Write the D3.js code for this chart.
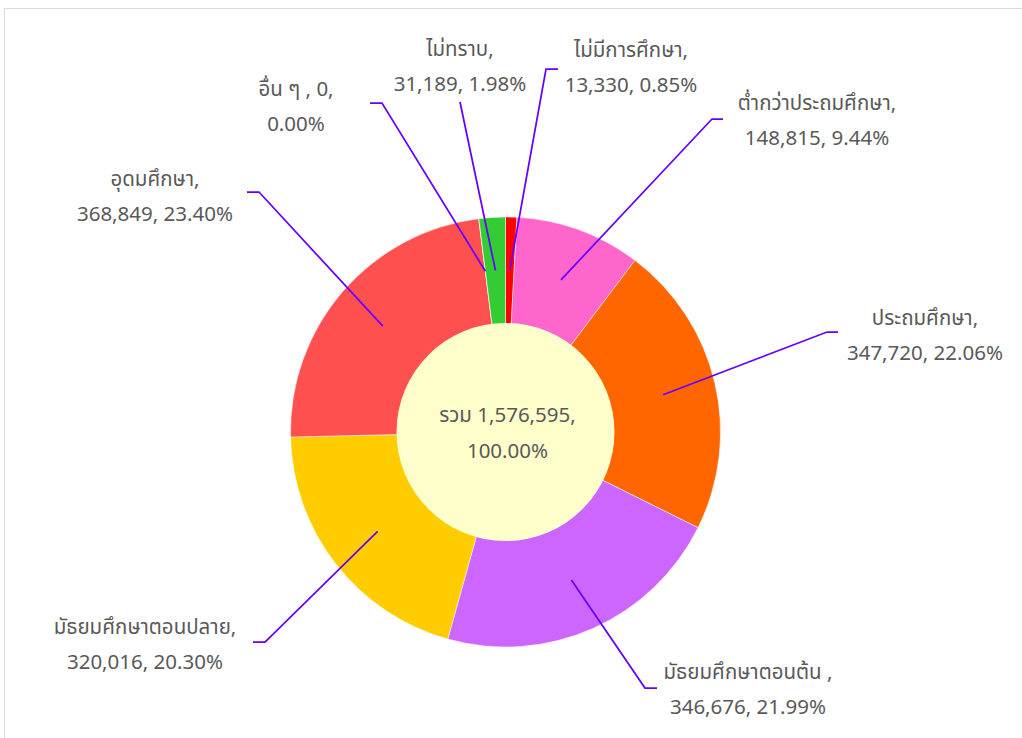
<!DOCTYPE html>
<html>

<head>
  <meta charset="utf-8">
  <title>Education</title>
  <style>
    body { margin: 0; background: #fff; }
    text { font-family: Tahoma, "Leelawadee UI", "Noto Sans Thai", "Liberation Sans", Arial, sans-serif; fill: #595959; }
  </style>
</head>

<body>
  <svg id="svg1"></svg>

  <script src="https://d3js.org/d3.v7.min.js"></script>
  <script>
    // data
    let categories = ["ไม่มีการศึกษา", "ต่ำกว่าประถมศึกษา", "ประถมศึกษา", "มัธยมศึกษาตอนต้น ",
      "มัธยมศึกษาตอนปลาย", "อุดมศึกษา", "อื่น ๆ ", "ไม่ทราบ"];
    let values = [13330, 148815, 347720, 346676, 320016, 368849, 0, 31189];
    let colors = ["#ff0000", "#ff66cc", "#ff6600", "#cc66ff", "#ffcc00", "#ff5050", "#a5a5a5", "#33cc33"];
    let firstLineParts = [1, 1, 1, 1, 1, 1, 2, 1]; // how many comma parts go on the first label line
    let totalLabel = "รวม";

    // label layout: label centre, elbow of the leader line, end of the short horizontal piece
    let labelPos = [
      { x: 631, y: 50, ex: 546, ey: 69, hx: 558 },
      { x: 817, y: 103, ex: 712, ey: 119, hx: 723 },
      { x: 925, y: 318, ex: 827, ey: 332, hx: 838 },
      { x: 748, y: 672, ex: 645, ey: 688, hx: 657 },
      { x: 145, y: 627, ex: 265, ey: 642, hx: 253 },
      { x: 155, y: 179, ex: 259, ey: 192, hx: 247 },
      { x: 296, y: 89, ex: 382, ey: 103, hx: 370 },
      { x: 460, y: 49, ex: 460, ey: 102, hx: 460 }
    ];

    let width = 1022, height = 738;
    let cx = 505.5, cy = 432;
    let outerR = 215, innerR = 109;

    let svg = d3.select("#svg1").attr("width", width).attr("height", height);

    // chart frame
    svg.append("rect")
      .attr("x", 4.5).attr("y", 8.5)
      .attr("width", width + 20).attr("height", height + 20)
      .attr("fill", "none").attr("stroke", "#d9d9d9");

    let total = d3.sum(values);
    let fmtNum = d3.format(",");
    let fmtPct = d3.format(".2%");

    let data = categories.map((c, i) => ({ name: c, value: values[i], i: i }));

    let pie = d3.pie().value(d => d.value).sort(null);
    let arc = d3.arc().innerRadius(0).outerRadius(outerR);
    let mid = d3.arc().innerRadius(innerR).outerRadius(outerR);

    let g = svg.append("g").attr("transform", `translate(${cx}, ${cy})`);
    let arcs = pie(data);

    g.selectAll("path")
      .data(arcs)
      .join("path")
      .attr("d", arc)
      .attr("fill", d => colors[d.data.i])
      .attr("stroke", "#fff")
      .attr("stroke-width", 0.5);

    g.append("circle").attr("r", innerR).attr("fill", "#ffffcc");

    // leader lines
    svg.append("g").selectAll("polyline")
      .data(arcs)
      .join("polyline")
      .attr("points", d => {
        let c = mid.centroid(d);
        let p = labelPos[d.data.i];
        return [[cx + c[0], cy + c[1]], [p.ex, p.ey], [p.hx, p.ey]].join(" ");
      })
      .attr("fill", "none")
      .attr("stroke", "#6600ff")
      .attr("stroke-width", 1.75);

    // labels
    let labels = svg.append("g").selectAll("text")
      .data(data)
      .join("text")
      .attr("text-anchor", "middle")
      .attr("font-size", 20.5);

    labels.each(function (d) {
      let parts = [d.name, fmtNum(d.value), fmtPct(d.value / total)];
      let n = firstLineParts[d.i];
      let line1 = parts.slice(0, n).join(", ") + ",";
      let line2 = parts.slice(n).join(", ");
      let p = labelPos[d.i];
      let t = d3.select(this);
      t.append("tspan").attr("x", p.x).attr("y", p.y + 7).text(line1);
      t.append("tspan").attr("x", p.x).attr("y", p.y + 7 + 35).text(line2);
    });

    // centre total
    let ct = svg.append("text").attr("text-anchor", "middle").attr("font-size", 20.5);
    ct.append("tspan").attr("x", cx + 2).attr("y", 422).text(`${totalLabel} ${fmtNum(total)},`);
    ct.append("tspan").attr("x", cx + 2).attr("y", 458).text(fmtPct(1));
  </script>
</body>

</html>
